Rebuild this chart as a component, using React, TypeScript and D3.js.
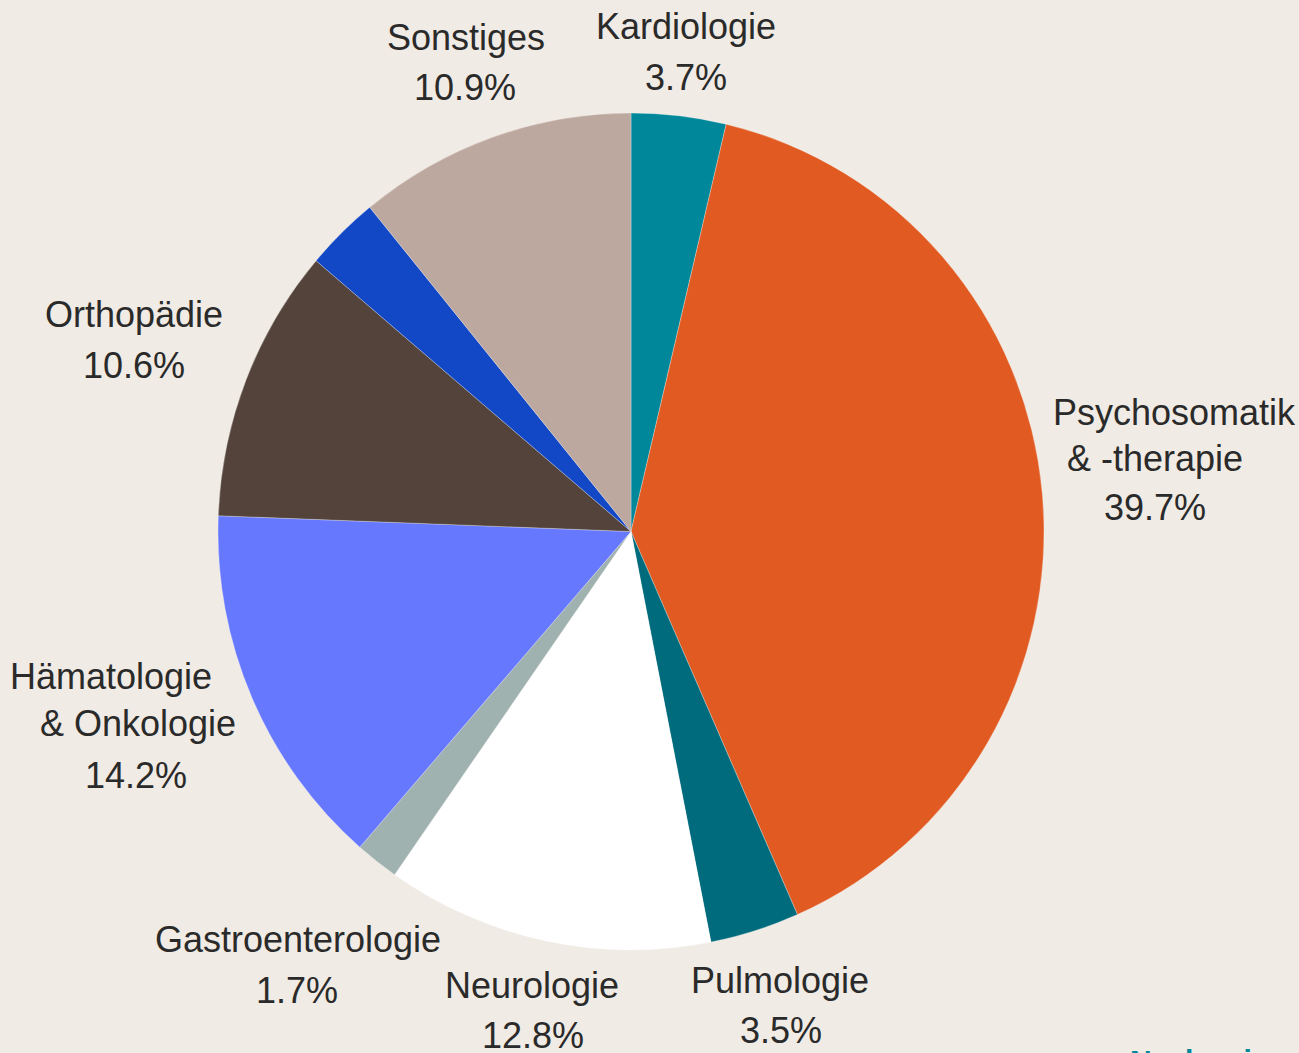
import React from "react";
import * as d3 from "d3";

const categories = [
  "Kardiologie",
  "Psychosomatik & -therapie",
  "Pulmologie",
  "Neurologie",
  "Gastroenterologie",
  "Hämatologie & Onkologie",
  "Orthopädie",
  "Andere",
  "Sonstiges",
];
const values = [3.7, 39.7, 3.5, 12.8, 1.7, 14.2, 10.6, 2.9, 10.9];
const valueLabels = ["3.7%", "39.7%", "3.5%", "12.8%", "1.7%", "14.2%", "10.6%", "", "10.9%"];
const nameLines = [
  ["Kardiologie"],
  ["Psychosomatik", "& -therapie"],
  ["Pulmologie"],
  ["Neurologie"],
  ["Gastroenterologie"],
  ["Hämatologie", "& Onkologie"],
  ["Orthopädie"],
  [],
  ["Sonstiges"],
];
const colors = [
  "#00879a",
  "#e05a21",
  "#006b7c",
  "#ffffff",
  "#a0b2af",
  "#6678fe",
  "#53433b",
  "#1247c5",
  "#bda89f",
];

// label layout: per line [center x, baseline y]
const labelLayout: [number, number][][] = [
  [[686, 39], [686, 90]],
  [[1174, 425], [1155, 471], [1155, 520]],
  [[780, 993], [781, 1043]],
  [[532, 998], [533, 1048]],
  [[298, 952], [297, 1003]],
  [[111, 689], [138, 736], [136, 788]],
  [[134, 327], [134, 378]],
  [],
  [[466, 50], [465, 100]],
];

const W = 1299;
const H = 1053;
const cx = 631;
const cy = 531.5;
const R = 413;
const yStretch = 418.5 / 413;

export default function App() {
  const pie = d3.pie<number>().sort(null).value((d) => d);
  const arcs = pie(values);
  const arc = d3.arc<d3.PieArcDatum<number>>().innerRadius(0).outerRadius(R);
  const font = "'Liberation Sans', Arial, sans-serif";
  return (
    <svg
      width={W}
      height={H}
      style={{ position: "absolute", left: 0, top: 0, display: "block" }}
    >
      <rect x={0} y={0} width={W} height={H} fill="#f0ebe4" />
      <g transform={`translate(${cx},${cy}) scale(1,${yStretch})`}>
        {arcs.map((a, i) => (
          <path
            key={categories[i]}
            d={arc(a) || ""}
            fill={colors[i]}
            stroke="rgba(255,255,255,0.35)"
            strokeWidth={0.8}
          />
        ))}
      </g>
      <g fontFamily={font} fontSize={36} fill="#2a2a2a" textAnchor="middle">
        {labelLayout.map((pos, i) => {
          const lines = [...nameLines[i], valueLabels[i]].filter((s) => s);
          return lines.map((t, j) => (
            <text key={`${i}-${j}`} x={pos[j][0]} y={pos[j][1]}>
              {t}
            </text>
          ));
        })}
      </g>
      <text
        x={1130}
        y={1071}
        fontFamily={font}
        fontSize={30}
        fontWeight="bold"
        fill="#00879a"
      >
        Nachweis
      </text>
    </svg>
  );
}
